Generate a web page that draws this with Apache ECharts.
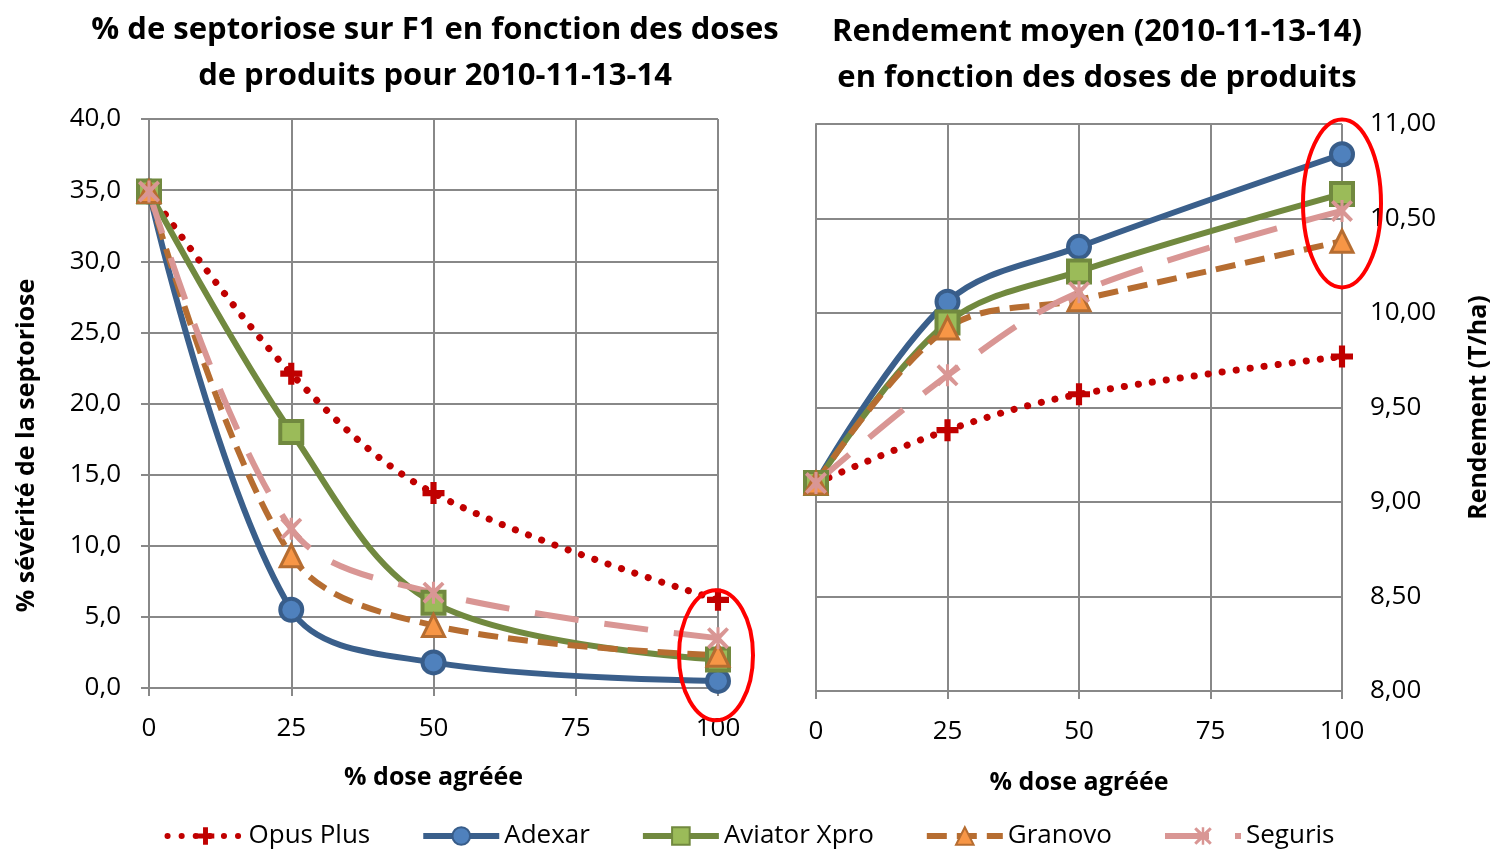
<!doctype html>
<html>
<head>
<meta charset="UTF-8">
<title>Septoriose et rendement</title>
<script src="https://cdn.jsdelivr.net/npm/echarts@6/dist/echarts.min.js"></script>
<style>
  html, body { margin: 0; padding: 0; background: #fff; }
  #chart { width: 1499px; height: 854px; }
</style>
</head>
<body>
<div id="chart"></div>
<script>
// doses (% dose agréée)
var doses = [0, 25, 50, 100];
var seriesNames = ['Opus Plus', 'Adexar', 'Aviator Xpro', 'Granovo', 'Seguris'];

// % sévérité de la septoriose sur F1
var sevOpus = [34.9, 22.1, 13.7, 6.2];
var sevAdexar = [34.9, 5.5, 1.8, 0.5];
var sevAviator = [34.9, 18.0, 6.0, 2.0];
var sevGranovo = [34.9, 9.3, 4.4, 2.3];
var sevSeguris = [34.9, 11.2, 6.7, 3.5];

// Rendement (T/ha)
var rdtOpus = [9.10, 9.38, 9.57, 9.77];
var rdtAdexar = [9.10, 10.06, 10.35, 10.84];
var rdtAviator = [9.10, 9.95, 10.22, 10.63];
var rdtGranovo = [9.10, 9.92, 10.07, 10.38];
var rdtSeguris = [9.10, 9.67, 10.11, 10.54];

var font = '"Open Sans", "Noto Sans", sans-serif';
var gridColor = '#888888';

var plusPath = 'path://M3.6,0h2.8v3.6h3.6v2.8h-3.6v3.6h-2.8v-3.6h-3.6v-2.8h3.6z';
var starPath = 'path://M1.2,0L5,3.6L8.8,0L10,1.2L6.4,5L10,8.8L8.8,10L5,6.4L1.2,10L0,8.8L3.6,5L0,1.2z M4.3,0h1.4v10h-1.4z';

var styles = {
  'Opus Plus': { color: '#C00000', lineStyle: { color: '#C00000', width: 7, type: [0.1, 14], cap: 'round' },
    symbol: plusPath, symbolSize: 22, itemStyle: { color: '#C00000', borderWidth: 0 } },
  'Adexar': { color: '#3A5F8B', lineStyle: { color: '#3A5F8B', width: 6, type: 'solid' },
    symbol: 'circle', symbolSize: 22, itemStyle: { color: '#4F81BD', borderColor: '#385D8A', borderWidth: 4 } },
  'Aviator Xpro': { color: '#71893F', lineStyle: { color: '#71893F', width: 6, type: 'solid' },
    symbol: 'rect', symbolSize: 22, itemStyle: { color: '#9BBB59', borderColor: '#71893F', borderWidth: 4 } },
  'Granovo': { color: '#B66D31', lineStyle: { color: '#B66D31', width: 6, type: [20, 10] },
    symbol: 'triangle', symbolSize: 22, itemStyle: { color: '#F79646', borderColor: '#B66D31', borderWidth: 3 } },
  'Seguris': { color: '#D99694', lineStyle: { color: '#D99694', width: 6, type: [44, 26] },
    symbol: starPath, symbolSize: 22, itemStyle: { color: '#D99694', borderWidth: 0 } }
};

function pairs(ys) {
  var out = [];
  for (var i = 0; i < doses.length; i++) out.push([doses[i], ys[i]]);
  return out;
}

function makeSeries(name, ys, idx) {
  var s = styles[name];
  return {
    name: name,
    type: 'line',
    xAxisIndex: idx,
    yAxisIndex: idx,
    data: pairs(ys),
    smooth: 0.35,
    symbol: s.symbol,
    symbolSize: s.symbolSize,
    showAllSymbol: true,
    color: s.color,
    lineStyle: s.lineStyle,
    itemStyle: s.itemStyle,
    emphasis: { disabled: true },
    z: 2
  };
}

var sevData = [sevOpus, sevAdexar, sevAviator, sevGranovo, sevSeguris];
var rdtData = [rdtOpus, rdtAdexar, rdtAviator, rdtGranovo, rdtSeguris];
var series = [];
for (var i = 0; i < seriesNames.length; i++) {
  series.push(makeSeries(seriesNames[i], sevData[i], 0));
}
for (var j = 0; j < seriesNames.length; j++) {
  series.push(makeSeries(seriesNames[j], rdtData[j], 1));
}

function xAxisCfg(idx, gap) {
  return {
    type: 'value', gridIndex: idx, min: 0, max: 100, interval: 25,
    name: '% dose agréée', nameLocation: 'middle', nameGap: gap,
    nameTextStyle: { fontFamily: font, fontSize: 25, fontWeight: 'bold', color: '#000' },
    axisLine: { show: true, lineStyle: { color: gridColor, width: 2 } },
    axisTick: { show: true, length: 8, lineStyle: { color: gridColor, width: 2 } },
    axisLabel: { fontFamily: font, fontSize: 26, color: '#000', margin: 28 },
    splitLine: { show: true, lineStyle: { color: gridColor, width: 2 } }
  };
}

var option = {
  animation: false,
  title: [
    { text: '% de septoriose sur F1 en fonction des doses\nde produits pour 2010-11-13-14', left: 430, top: 2, textAlign: 'center',
      textStyle: { fontFamily: font, fontSize: 31, fontWeight: 'bold', color: '#000', lineHeight: 46 } },
    { text: 'Rendement moyen (2010-11-13-14)\nen fonction des doses de produits', left: 1092, top: 4, textAlign: 'center',
      textStyle: { fontFamily: font, fontSize: 31, fontWeight: 'bold', color: '#000', lineHeight: 46 } }
  ],
  legend: {
    data: seriesNames,
    bottom: 0,
    left: 'center',
    itemWidth: 76,
    itemHeight: 22,
    itemGap: 50,
    lineStyle: { width: 6 },
    textStyle: { fontFamily: font, fontSize: 26, color: '#000' }
  },
  grid: [
    { left: 149, top: 119, width: 569, height: 569 },
    { left: 816, top: 124, width: 526, height: 567 }
  ],
  xAxis: [xAxisCfg(0, 77), xAxisCfg(1, 79)],
  yAxis: [
    {
      type: 'value', gridIndex: 0, min: 0, max: 40, interval: 5,
      name: '% sévérité de la septoriose', nameLocation: 'middle', nameGap: 110,
      nameTextStyle: { fontFamily: font, fontSize: 25, fontWeight: 'bold', color: '#000', padding: [0, 84, 0, 0] },
      axisLine: { show: true, lineStyle: { color: gridColor, width: 2 } },
      axisTick: { show: true, length: 8, lineStyle: { color: gridColor, width: 2 } },
      axisLabel: { fontFamily: font, fontSize: 26, color: '#000', margin: 28,
        formatter: function (v) { return v.toFixed(1).replace('.', ','); } },
      splitLine: { show: true, lineStyle: { color: gridColor, width: 2 } }
    },
    {
      type: 'value', gridIndex: 1, min: 8, max: 11, interval: 0.5, position: 'right',
      name: 'Rendement (T/ha)', nameLocation: 'middle', nameGap: 124, nameRotate: 90,
      nameTextStyle: { fontFamily: font, fontSize: 25, fontWeight: 'bold', color: '#000' },
      axisLine: { show: true, lineStyle: { color: gridColor, width: 2 } },
      axisTick: { show: true, length: 8, lineStyle: { color: gridColor, width: 2 } },
      axisLabel: { fontFamily: font, fontSize: 26, color: '#000', margin: 28,
        formatter: function (v) { return v.toFixed(2).replace('.', ','); } },
      splitLine: { show: true, lineStyle: { color: gridColor, width: 2 } }
    }
  ],
  series: series
};

var chart = echarts.init(document.getElementById('chart'));
chart.setOption(option);

// ellipses rouges autour des points à 100 %
var p1 = chart.convertToPixel({ gridIndex: 0 }, [100, (sevSeguris[3] + sevAdexar[3]) / 2 + 0.3]);
var p2 = chart.convertToPixel({ gridIndex: 1 }, [100, (rdtAdexar[3] + rdtGranovo[3]) / 2 - 0.03]);
chart.setOption({
  graphic: [
    { type: 'ellipse', shape: { cx: p1[0] - 2, cy: p1[1], rx: 37, ry: 65 }, style: { fill: 'none', stroke: '#FF0000', lineWidth: 4 }, z: 100 },
    { type: 'ellipse', shape: { cx: p2[0], cy: p2[1], rx: 39, ry: 84 }, style: { fill: 'none', stroke: '#FF0000', lineWidth: 4 }, z: 100 }
  ]
});
</script>
</body>
</html>
